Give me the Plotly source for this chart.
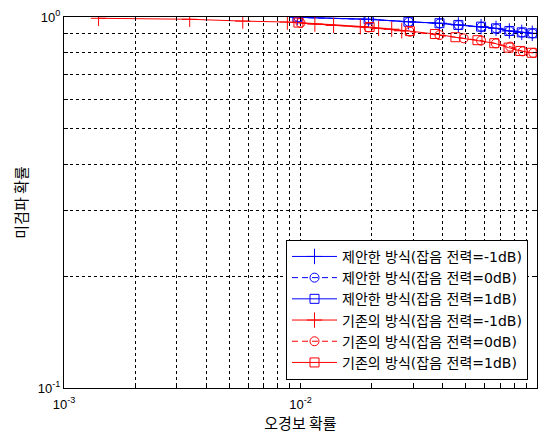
import math
import plotly.graph_objects as go

# Proposed detector (제안한 방식): false-alarm probability vs. miss probability
prop_m1_pf = [0.0097, 0.0194, 0.0286, 0.0387, 0.0465, 0.058, 0.0671, 0.0764, 0.0862, 0.0955]
prop_m1_pm = [0.998, 0.986, 0.971, 0.962, 0.952, 0.942, 0.932, 0.917, 0.909, 0.904]
prop_0_pf = [0.0098, 0.0195, 0.0287, 0.0388, 0.0466, 0.0582, 0.0672, 0.0765, 0.0864, 0.0957]
prop_0_pm = [0.997, 0.985, 0.970, 0.961, 0.951, 0.941, 0.931, 0.916, 0.908, 0.903]
prop_p1_pf = [0.0097, 0.0194, 0.0286, 0.0387, 0.0465, 0.058, 0.0671, 0.0764, 0.0862, 0.0955]
prop_p1_pm = [0.998, 0.986, 0.971, 0.962, 0.952, 0.942, 0.932, 0.917, 0.909, 0.904]

# Conventional detector (기존의 방식)
conv_m1_pf = [0.0014, 0.0034, 0.0057, 0.0088, 0.0115, 0.0138, 0.0179, 0.0214, 0.0243, 0.0268]
conv_m1_pm = [0.992, 0.986, 0.975, 0.969, 0.957, 0.949, 0.942, 0.932, 0.927, 0.918]
conv_0_pf = [0.0100, 0.0194, 0.0290, 0.0387, 0.0490, 0.0580, 0.0670, 0.0770, 0.0870, 0.0965]
conv_0_pm = [0.964, 0.937, 0.913, 0.894, 0.876, 0.864, 0.849, 0.832, 0.808, 0.800]
conv_p1_pf = [0.0098, 0.0196, 0.0290, 0.0370, 0.0452, 0.0560, 0.0660, 0.0758, 0.0850, 0.0950]
conv_p1_pm = [0.966, 0.940, 0.916, 0.900, 0.882, 0.866, 0.850, 0.827, 0.810, 0.801]

names = [
    "제안한 방식(잡음 전력=-1dB)",
    "제안한 방식(잡음 전력=0dB)",
    "제안한 방식(잡음 전력=1dB)",
    "기존의 방식(잡음 전력=-1dB)",
    "기존의 방식(잡음 전력=0dB)",
    "기존의 방식(잡음 전력=1dB)",
]

x_ticks = [0.001, 0.01, 0.1]
y_ticks = [0.1, 1.0]
x_grid = [k * 10 ** e for e in (-3, -2) for k in range(1, 10)] + [0.1]
y_grid = [k / 10 for k in range(1, 11)]

BLUE = "#0000FF"
RED = "#FF0000"
KFONT = "Noto Sans CJK KR"
LFONT = "DejaVu Sans, Noto Sans CJK KR"

series = [
    (prop_m1_pf, prop_m1_pm, BLUE, "solid", "cross-thin", 11),
    (prop_0_pf, prop_0_pm, BLUE, "6px,4px", "circle-open", 9),
    (prop_p1_pf, prop_p1_pm, BLUE, "solid", "square-open", 9),
    (conv_m1_pf, conv_m1_pm, RED, "solid", "cross-thin", 11),
    (conv_0_pf, conv_0_pm, RED, "6px,4px", "circle-open", 9),
    (conv_p1_pf, conv_p1_pm, RED, "solid", "square-open", 9),
]

fig = go.Figure()
for (xs, ys, col, dash, sym, size), nm in zip(series, names):
    fig.add_trace(go.Scatter(
        x=xs, y=ys, name=nm, mode="lines+markers",
        line=dict(color=col, width=1, dash=dash),
        marker=dict(symbol=sym, size=size, color=col, line=dict(color=col, width=1)),
    ))


def sup_label(v):
    e = int(round(math.log10(v)))
    return f"10<sup>{e}</sup>"


axis_common = dict(
    type="log", showline=True, linecolor="black", linewidth=1, mirror="ticks",
    ticks="inside", ticklen=4, tickcolor="black",
    showgrid=True, gridcolor="black", gridwidth=1, griddash="3px,3px",
    zeroline=False, tickfont=dict(family="Liberation Sans, Arial", size=13, color="black"),
)

fig.update_xaxes(
    **axis_common, range=[-3, -1],
    tickvals=x_grid,
    ticktext=[sup_label(v) if any(abs(v - t) < 1e-12 for t in x_ticks) else "" for v in x_grid],
    ticklabelstandoff=4,
    title=dict(text="오경보 확률", font=dict(family=KFONT, size=15, color="black"), standoff=2),
)
fig.update_yaxes(
    **axis_common, range=[-1, 0],
    tickvals=y_grid,
    ticktext=[sup_label(v) if any(abs(v - t) < 1e-12 for t in y_ticks) else "" for v in y_grid],
    title=dict(text="미검파 확률", font=dict(family=KFONT, size=15, color="black"), standoff=6),
)

fig.update_layout(
    width=544, height=435,
    margin=dict(l=64, r=7, t=17, b=47),
    paper_bgcolor="white", plot_bgcolor="white",
    font=dict(family=KFONT, size=15, color="black"),
    legend=dict(
        x=0.981, y=0.022, xanchor="right", yanchor="bottom",
        bgcolor="white", bordercolor="black", borderwidth=1,
        font=dict(family=LFONT, size=14, color="black"),
        tracegroupgap=0, itemwidth=45,
    ),
    showlegend=True,
)

fig.write_html("out.html")
